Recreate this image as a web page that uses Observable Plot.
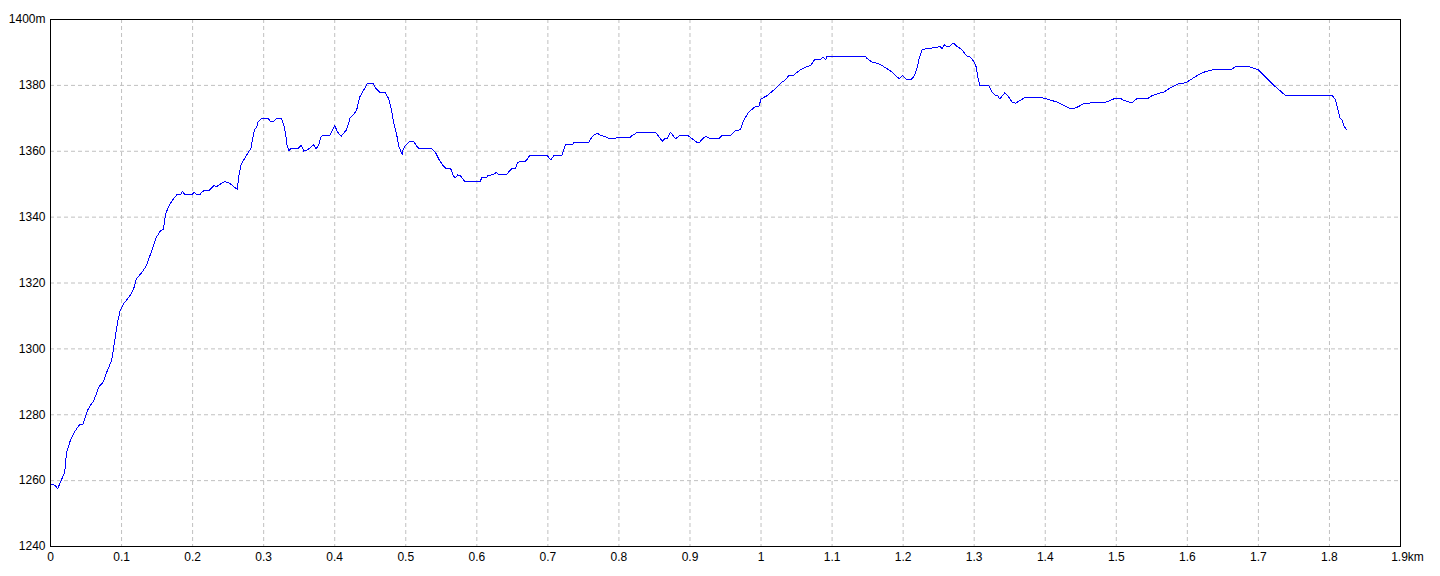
<!DOCTYPE html>
<html>
<head>
<meta charset="utf-8">
<script src="https://cdn.jsdelivr.net/npm/d3@7"></script>
<script src="https://cdn.jsdelivr.net/npm/@observablehq/plot@0.6"></script>
<style>
  html, body { margin: 0; padding: 0; background: #fff; }
  #chart svg { display: block; }
</style>
</head>
<body>
<div id="chart"></div>
<script>
// Distance along track (km)
const dist = [
  0, 0.007, 0.010, 0.014, 0.020, 0.0225, 0.028, 0.035, 0.041, 0.046,
  0.052, 0.056, 0.061, 0.068, 0.074, 0.080, 0.086, 0.089, 0.094, 0.098,
  0.103, 0.112, 0.117, 0.121, 0.129, 0.135, 0.140, 0.145, 0.149, 0.155,
  0.159, 0.162, 0.168, 0.174, 0.178, 0.183, 0.186, 0.189, 0.199, 0.202,
  0.206, 0.210, 0.214, 0.223, 0.229, 0.231, 0.233, 0.238, 0.245, 0.251,
  0.256, 0.263, 0.265, 0.268, 0.272, 0.277, 0.2825, 0.284, 0.287, 0.290,
  0.292, 0.296, 0.307, 0.310, 0.314, 0.317, 0.325, 0.328, 0.331, 0.333,
  0.3355, 0.338, 0.348, 0.353, 0.3565, 0.361, 0.365, 0.370, 0.374, 0.378,
  0.381, 0.387, 0.393, 0.400, 0.404, 0.409, 0.4166, 0.422, 0.427, 0.431,
  0.435, 0.439, 0.442, 0.446, 0.454, 0.457, 0.4645, 0.4715, 0.476, 0.4795,
  0.483, 0.487, 0.490, 0.4926, 0.495, 0.4964, 0.4996, 0.5057, 0.511, 0.516,
  0.519, 0.537, 0.542, 0.5465, 0.5527, 0.556, 0.563, 0.5667, 0.570, 0.573,
  0.577, 0.583, 0.605, 0.6066, 0.6136, 0.6155, 0.623, 0.6277, 0.631, 0.6418,
  0.645, 0.6498, 0.6545, 0.6577, 0.6685, 0.671, 0.6746, 0.699, 0.7028, 0.705,
  0.709, 0.720, 0.7248, 0.734, 0.7375, 0.7577, 0.7624, 0.7694, 0.774, 0.7797,
  0.7873, 0.793, 0.7966, 0.8153, 0.8187, 0.8266, 0.8515, 0.861, 0.8642, 0.868,
  0.8726, 0.8797, 0.8857, 0.897, 0.903, 0.909, 0.9139, 0.9195, 0.923, 0.928,
  0.9406, 0.9453, 0.957, 0.964, 0.971, 0.9758, 0.9828, 0.9923, 0.997, 1.0,
  1.0087, 1.018, 1.0298, 1.0345, 1.039, 1.046, 1.0508, 1.0556, 1.0626, 1.0697,
  1.0753, 1.0837, 1.0875, 1.091, 1.093, 1.147, 1.1495, 1.1565, 1.1635, 1.1706,
  1.1776, 1.1847, 1.1917, 1.195, 1.1987, 1.2034, 1.208, 1.2128, 1.216, 1.2198,
  1.223, 1.2268, 1.2315, 1.2386, 1.248, 1.2517, 1.255, 1.258, 1.262, 1.2657,
  1.269, 1.2723, 1.276, 1.283, 1.289, 1.2948, 1.2995, 1.303, 1.305, 1.308,
  1.3206, 1.3254, 1.330, 1.333, 1.336, 1.343, 1.346, 1.3535, 1.358, 1.3628,
  1.372, 1.3934, 1.398, 1.405, 1.417, 1.426, 1.4356, 1.44, 1.4473, 1.4544,
  1.466, 1.4834, 1.492, 1.4966, 1.507, 1.5107, 1.5224, 1.5285, 1.5435, 1.548,
  1.553, 1.56, 1.567, 1.574, 1.581, 1.588, 1.5975, 1.6045, 1.6115, 1.6186,
  1.6256, 1.635, 1.6608, 1.668, 1.6866, 1.6937, 1.6993, 1.7078, 1.7218, 1.7383,
  1.804, 1.8086, 1.811, 1.8147, 1.818, 1.8203, 1.824
];

// Elevation (m)
const elev = [
  1259, 1258.5, 1257.5, 1259.5, 1262.6, 1268.6, 1272.2, 1275.2, 1277, 1277.2,
  1281.3, 1282.8, 1284.3, 1288.4, 1289.9, 1293.4, 1296.5, 1300.5, 1307.6, 1311.6,
  1313.7, 1316.2, 1318.2, 1321.3, 1323.3, 1325.3, 1328.3, 1331.4, 1333.9, 1335.9,
  1336.4, 1341, 1344, 1345.8, 1346.8, 1346.8, 1347.9, 1346.8, 1346.8, 1347.6,
  1346.8, 1346.8, 1347.9, 1348.1, 1349.4, 1349.6, 1349.1, 1349.9, 1350.8, 1350.4,
  1349.6, 1348.4, 1352.6, 1355.7, 1357.4, 1359.2, 1361, 1363.3, 1366.5, 1367.3,
  1368.8, 1369.8, 1369.8, 1369.0, 1369.0, 1369.8, 1369.8, 1368.3, 1365.3, 1361.7,
  1360.2, 1360.7, 1360.7, 1361.9, 1360, 1360.4, 1360.9, 1362, 1360.7, 1362.3,
  1364.6, 1364.8, 1364.8, 1367.8, 1365.8, 1364.5, 1366.5, 1370.3, 1371.2, 1372.6,
  1376.4, 1377.9, 1379, 1380.7, 1380.7, 1379.3, 1377.7, 1377.7, 1375.9, 1372.9,
  1368.8, 1365.3, 1361.7, 1360.2, 1359, 1360.7, 1361.7, 1363, 1363, 1361.4,
  1360.7, 1360.7, 1359.6, 1357.6, 1355.6, 1354.9, 1354.9, 1352.6, 1351.9, 1352.8,
  1352.6, 1350.8, 1350.8, 1351.9, 1351.9, 1352.6, 1352.9, 1353.6, 1352.8, 1352.8,
  1353.8, 1354.9, 1354.9, 1356.7, 1357, 1357.6, 1358.8, 1358.8, 1357.6, 1357.6,
  1358.8, 1358.8, 1361.9, 1361.9, 1362.8, 1362.8, 1364.5, 1365.5, 1364.8, 1364.5,
  1363.8, 1363.8, 1364.1, 1364.1, 1364.8, 1365.8, 1365.8, 1363, 1363.8, 1363.8,
  1365.8, 1363.8, 1364.8, 1364.8, 1363.8, 1362.8, 1362.8, 1364.2, 1364.5, 1363.8,
  1363.8, 1364.8, 1364.8, 1366.3, 1366.5, 1369.5, 1371.9, 1373.6, 1373.6, 1375.9,
  1376.9, 1378.6, 1381, 1381.7, 1383, 1383, 1384, 1384.7, 1385.5, 1386,
  1387.8, 1387.8, 1388.6, 1387.9, 1388.8, 1388.8, 1388.1, 1387, 1386.7, 1386,
  1385, 1384, 1382.5, 1382, 1383, 1382, 1381.7, 1382, 1383, 1385.5,
  1388.6, 1390.8, 1391.1, 1391.3, 1391.6, 1391.8, 1391.1, 1392.3, 1391.8, 1391.8,
  1392.6, 1392.6, 1391.8, 1390.8, 1389, 1388.6, 1387.2, 1385.5, 1382.5, 1380,
  1380, 1377.9, 1376.9, 1376.9, 1375.9, 1377.7, 1377.2, 1374.9, 1374.6, 1375.2,
  1376.4, 1376.4, 1376.1, 1375.7, 1374.9, 1373.9, 1372.9, 1372.9, 1373.6, 1374.5,
  1374.7, 1374.7, 1375.5, 1375.9, 1375.9, 1375.4, 1374.7, 1375.9, 1375.9, 1376.6,
  1377.1, 1377.6, 1377.9, 1379, 1379.8, 1380.5, 1380.8, 1381.7, 1382.7, 1383.5,
  1384.2, 1384.7, 1384.7, 1385.7, 1385.7, 1385.2, 1384.8, 1383, 1380, 1376.9,
  1376.9, 1375.6, 1373.4, 1370.1, 1369.5, 1367.8, 1366.5
];

// Axis ticks and labels
const xTicks = [0, 0.1, 0.2, 0.3, 0.4, 0.5, 0.6, 0.7, 0.8, 0.9, 1, 1.1, 1.2, 1.3, 1.4, 1.5, 1.6, 1.7, 1.8, 1.9];
const xTickLabels = ["0", "0.1", "0.2", "0.3", "0.4", "0.5", "0.6", "0.7", "0.8", "0.9", "1", "1.1", "1.2", "1.3", "1.4", "1.5", "1.6", "1.7", "1.8", "1.9km"];
const yTicks = [1240, 1260, 1280, 1300, 1320, 1340, 1360, 1380, 1400];
const yTickLabels = ["1240", "1260", "1280", "1300", "1320", "1340", "1360", "1380", "1400m"];

const data = dist.map((d, i) => ({d, e: elev[i]}));
const lastX = xTicks.length - 1;

const chart = Plot.plot({
  width: 1440,
  height: 576,
  marginLeft: 50,
  marginRight: 40,
  marginTop: 19,
  marginBottom: 30,
  style: {fontFamily: "'Liberation Sans', Arial, sans-serif", fontSize: "12px", color: "#000", background: "#fff"},
  x: {domain: [0, 1.9]},
  y: {domain: [1240, 1400]},
  marks: [
    Plot.gridX(xTicks, {stroke: "#c0c0c0", strokeOpacity: 1, strokeDasharray: "4,3"}),
    Plot.gridY(yTicks, {stroke: "#c0c0c0", strokeOpacity: 1, strokeDasharray: "4,3"}),
    Plot.line(data, {x: "d", y: "e", stroke: "#0000ff", strokeWidth: 1, shapeRendering: "crispEdges"}),
    Plot.frame({stroke: "#000", strokeWidth: 1}),
    Plot.axisX(xTicks.slice(0, lastX), {tickSize: 0, tickPadding: 6, label: null, tickFormat: (d, i) => xTickLabels[i], fill: "#000"}),
    Plot.axisX([xTicks[lastX]], {tickSize: 0, tickPadding: 6, label: null, tickFormat: () => xTickLabels[lastX], dx: 7, fill: "#000"}),
    Plot.axisY(yTicks, {tickSize: 0, tickPadding: 5, label: null, tickFormat: (d, i) => yTickLabels[i], fill: "#000"})
  ]
});
document.getElementById("chart").appendChild(chart);
</script>
</body>
</html>
